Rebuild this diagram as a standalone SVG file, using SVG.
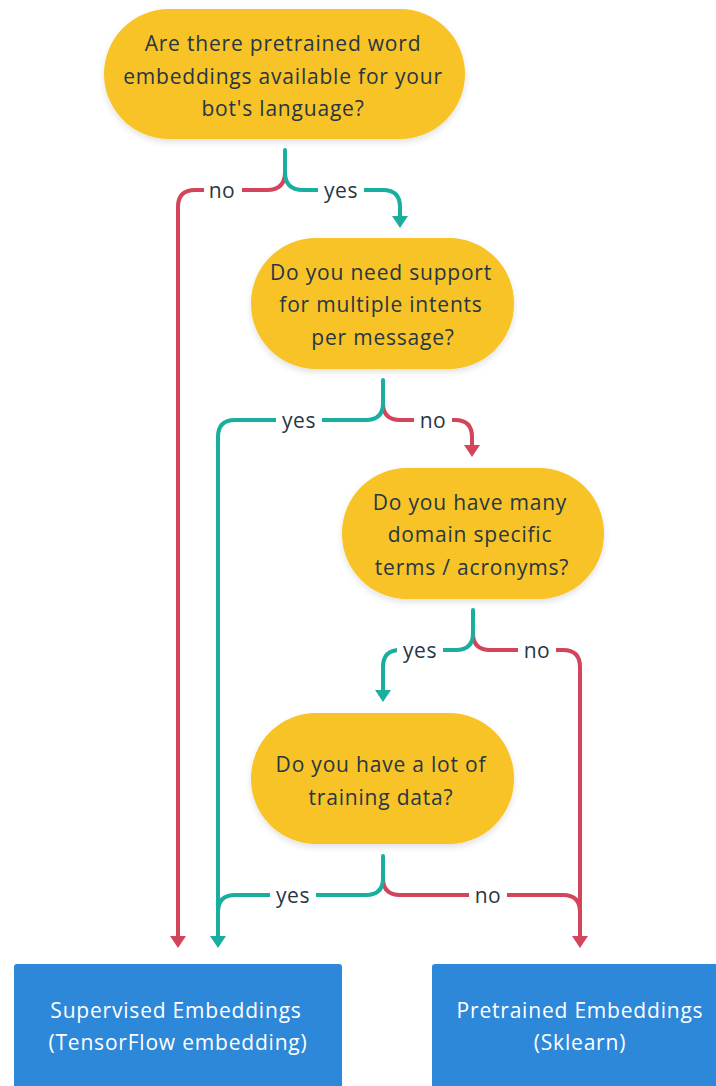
<svg xmlns="http://www.w3.org/2000/svg" width="716" height="1086" viewBox="0 0 716 1086">
  <style>
    .q { fill: #f7c325; filter: url(#shadow); }
    .out { fill: #2d88d9; }
    .qt { font-family: "Open Sans", "Liberation Sans", sans-serif; font-size: 21px; letter-spacing: 0.8px; fill: #273645; text-anchor: middle; dominant-baseline: central; }
    .ot { font-family: "Open Sans", "Liberation Sans", sans-serif; font-size: 21px; letter-spacing: 0.8px; fill: #ffffff; text-anchor: middle; dominant-baseline: central; }
    .lbl { font-family: "Open Sans", "Liberation Sans", sans-serif; font-size: 21px; letter-spacing: 0.6px; fill: #273645; text-anchor: middle; dominant-baseline: central; }
    .yes { fill: none; stroke: #1aae9f; stroke-width: 4; stroke-linecap: round; stroke-linejoin: round; }
    .no { fill: none; stroke: #d3455b; stroke-width: 4; stroke-linecap: round; stroke-linejoin: round; }
    .gap { fill: #ffffff; }
  </style>
  <defs>
    <filter id="shadow" x="-10%" y="-20%" width="120%" height="150%">
      <feDropShadow dx="0" dy="3" stdDeviation="3" flood-color="#000000" flood-opacity="0.12"/>
    </filter>
  </defs>
  <rect width="716" height="1086" fill="#ffffff"/>

  <!-- connectors -->
  <g id="connectors">
    <!-- from q1 -->
    <path class="no" d="M285,172 Q285,190 267,190 L195,190 Q178,190 178,207 L178,938"/>
    <path class="yes" d="M285,150 L285,172 Q285,190 303,190 L383,190 Q400,190 400,207 L400,218"/>
    <polygon fill="#d3455b" points="170,936 186,936 178,948"/>
    <polygon fill="#1aae9f" points="392,216 408,216 400,228"/>
    <!-- from q2 -->
    <path class="no" d="M383,403 Q383,420 400,420 L455,420 Q472,420 472,437 L472,446"/>
    <path class="yes" d="M383,380 L383,403 Q383,420 366,420 L235,420 Q218,420 218,437 L218,938"/>
    <polygon fill="#d3455b" points="464,445 480,445 472,457"/>
    <polygon fill="#1aae9f" points="210,936 226,936 218,948"/>
    <!-- from q3 -->
    <path class="no" d="M473,633 Q473,650 490,650 L563,650 Q580,650 580,667 L580,938"/>
    <path class="yes" d="M473,610 L473,633 Q473,650 456,650 L400,650 Q383,650 383,667 L383,692"/>
    <polygon fill="#d3455b" points="572,936 588,936 580,948"/>
    <polygon fill="#1aae9f" points="375,690 391,690 383,702"/>
    <!-- from q4 -->
    <path class="no" d="M383,878 Q383,895 400,895 L563,895 Q580,895 580,912"/>
    <path class="yes" d="M383,856 L383,878 Q383,895 366,895 L235,895 Q218,895 218,912"/>

    <!-- branch labels -->
    <rect class="gap" x="204" y="178" width="38" height="24"/>
    <text class="lbl" x="222" y="190">no</text>
    <rect class="gap" x="318" y="178" width="46" height="24"/>
    <text class="lbl" x="341" y="190">yes</text>
    <rect class="gap" x="276" y="408" width="46" height="24"/>
    <text class="lbl" x="299" y="420">yes</text>
    <rect class="gap" x="414" y="408" width="38" height="24"/>
    <text class="lbl" x="433" y="420">no</text>
    <rect class="gap" x="397" y="638" width="46" height="24"/>
    <text class="lbl" x="420" y="650">yes</text>
    <rect class="gap" x="518" y="638" width="38" height="24"/>
    <text class="lbl" x="537" y="650">no</text>
    <rect class="gap" x="270" y="883" width="46" height="24"/>
    <text class="lbl" x="293" y="895">yes</text>
    <rect class="gap" x="469" y="883" width="38" height="24"/>
    <text class="lbl" x="488" y="895">no</text>
  </g>

  <!-- decision nodes -->
  <g id="q1">
    <rect class="q" x="104" y="9" width="361" height="130" rx="65"/>
    <text class="qt" x="283" y="43">Are there pretrained word</text>
    <text class="qt" x="283" y="76">embeddings available for your</text>
    <text class="qt" x="283" y="108">bot's language?</text>
  </g>
  <g id="q2">
    <rect class="q" x="251" y="238" width="263" height="131" rx="65"/>
    <text class="qt" x="381" y="272">Do you need support</text>
    <text class="qt" x="381" y="304">for multiple intents</text>
    <text class="qt" x="383" y="337">per message?</text>
  </g>
  <g id="q3">
    <rect class="q" x="342" y="468" width="262" height="131" rx="65"/>
    <text class="qt" x="470" y="502">Do you have many</text>
    <text class="qt" x="470" y="534">domain specific</text>
    <text class="qt" x="472" y="567">terms / acronyms?</text>
  </g>
  <g id="q4">
    <rect class="q" x="251" y="713" width="263" height="131" rx="65"/>
    <text class="qt" x="381" y="764">Do you have a lot of</text>
    <text class="qt" x="381" y="797">training data?</text>
  </g>

  <!-- outcomes -->
  <g id="supervised">
    <rect class="out" x="14" y="964" width="328" height="140" rx="3"/>
    <text class="ot" x="176" y="1010">Supervised Embeddings</text>
    <text class="ot" x="178" y="1042">(TensorFlow embedding)</text>
  </g>
  <g id="pretrained">
    <rect class="out" x="432" y="964" width="300" height="140" rx="3"/>
    <text class="ot" x="580" y="1010">Pretrained Embeddings</text>
    <text class="ot" x="580" y="1042">(Sklearn)</text>
  </g>
</svg>
